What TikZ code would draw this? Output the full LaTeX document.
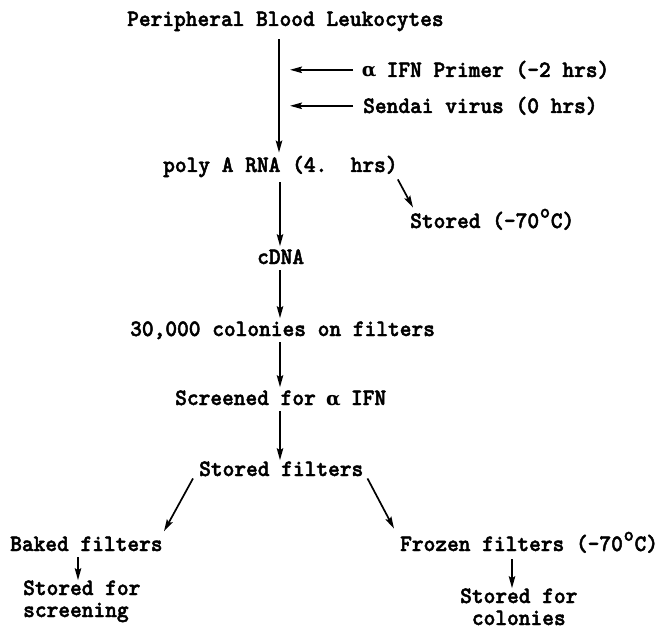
\documentclass[tikz,border=0pt]{standalone}
\usepackage{fontspec}
\newfontfamily\twfont{lmmonolt10-bold.otf}[FakeStretch=0.95,FakeBold=2]
\newfontfamily\grkfont{DejaVu Serif}
\usetikzlibrary{arrows.meta}
% one character cell of the typewriter face
\newcommand\cellbox[1]{\makebox[\fontcharwd\font`0]{#1}}
% raised "o" used as a degree sign
\newcommand\degsign{\cellbox{\raisebox{0.44em}{\fontsize{20}{20}\selectfont o}}}
% Greek alpha set in one cell
\newcommand\alphach{\cellbox{{\grkfont\bfseries\fontsize{19}{19}\selectfont α}}}
\begin{document}
\begin{tikzpicture}[x=1pt,y=-1pt,
  lbl/.style={font=\twfont\fontsize{23.5}{22}\selectfont, inner sep=0pt, anchor=base west},
  multi/.style={lbl, align=left},
  arr/.style={line width=1.7pt, -{Stealth[length=12pt,width=6.5pt,inset=2pt]}}]
\useasboundingbox (0,0) rectangle (661,631);

% labels
\node[lbl] (pbl)    at (127,26)  {Peripheral Blood Leukocytes};
\node[lbl] (primer) at (363,77)  {\alphach{} IFN Primer (-2 hrs)};
\node[lbl] (sendai) at (363,113) {Sendai virus (0 hrs)};
\node[lbl] (polya)  at (163,172) {poly A RNA (4.\ \ hrs)};
\node[lbl] (frozA)  at (410,228) {Stored (-70\degsign C)};
\node[lbl] (cdna)   at (257,264) {cDNA};
\node[lbl] (colon)  at (130,336) {30,000 colonies on filters};
\node[lbl] (screen) at (175,405) {Screened for \alphach{} IFN};
\node[lbl] (sfilt)  at (199,476) {Stored filters};
\node[lbl] (baked)  at (10,551)  {Baked filters};
\node[lbl] (frozF)  at (400,551) {Frozen filters (-70\degsign C)};
\node[multi] (sscr) at (23,617)  {Stored for\\screening};
\node[multi] (scol) at (460,625) {Stored for\\\hphantom{S}colonies};

% guide positions for the vertical connectors
\coordinate (mainx) at (279,0);
\coordinate (lowx)  at (280,0);
\coordinate (leftx) at (78,0);
\coordinate (rightx) at (512,0);

% main column
\draw[arr] ([yshift=-8pt]pbl.south -| mainx) -- ([yshift=3pt]polya.north -| mainx);
\draw[arr] ([xshift=-10pt]primer.west) -- ([xshift=11pt]primer.west -| mainx);
\draw[arr] ([xshift=-10pt]sendai.west) -- ([xshift=11pt]sendai.west -| mainx);
\draw[arr] ([yshift=-5pt]polya.south -| lowx) -- ([yshift=3pt]cdna.north -| lowx);
\draw[arr] ([yshift=-6pt]cdna.south -| lowx) -- ([yshift=3pt]colon.north -| lowx);
\draw[arr] ([yshift=-3pt]colon.south -| lowx) -- ([yshift=3pt]screen.north -| lowx);
\draw[arr] ([yshift=-5pt]screen.south -| lowx) -- ([yshift=1pt]sfilt.north -| lowx);

% side branch of the RNA
\draw[arr] ([yshift=-2pt]polya.south east) -- ([xshift=3pt,yshift=1pt]frozA.north west);

% split of the stored filters
\draw[arr] ([xshift=-6pt,yshift=-2pt]sfilt.south west) -- ([xshift=154pt,yshift=5pt]baked.north west);
\draw[arr] ([xshift=4pt,yshift=-2pt]sfilt.south east) -- ([xshift=-6pt,yshift=3pt]frozF.north west);
\draw[arr] ([yshift=-6pt]baked.south -| leftx) -- ([yshift=0pt]sscr.north -| leftx);
\draw[arr] ([yshift=-6pt]frozF.south -| rightx) -- ([yshift=0pt]scol.north -| rightx);
\end{tikzpicture}
\end{document}
